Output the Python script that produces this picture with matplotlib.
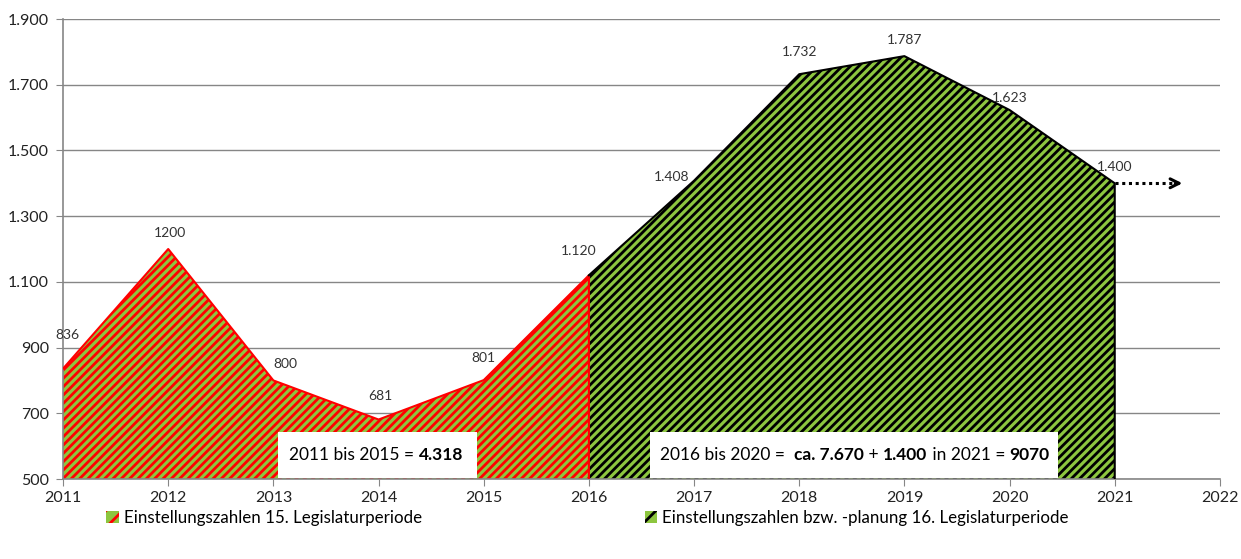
import matplotlib
matplotlib.use("Agg")
import matplotlib.pyplot as plt
from matplotlib.patches import Patch, Rectangle

plt.rcParams['font.family'] = ['Lato', 'DejaVu Sans']
plt.rcParams['hatch.linewidth'] = 2.0

# Daten
jahre_15 = [2011, 2012, 2013, 2014, 2015, 2016]
werte_15 = [836, 1200, 800, 681, 801, 1120]
jahre_16 = [2016, 2017, 2018, 2019, 2020, 2021]
werte_16 = [1120, 1408, 1732, 1787, 1623, 1400]
legende = ["Einstellungszahlen 15. Legislaturperiode",
           "Einstellungszahlen bzw. -planung 16. Legislaturperiode"]

gruen = '#8DC63F'


def de(v):
    return f"{v:,.0f}".replace(',', '.')


fig = plt.figure(figsize=(12.41, 5.59), dpi=100)
ax = fig.add_axes([0.0508, 0.1431, 0.9322, 0.8229])

# Flaechen mit Schraffur
ax.fill_between(jahre_15, werte_15, 500, facecolor=gruen, edgecolor='#FF0000',
                hatch='////', linewidth=0, zorder=2)
ax.fill_between(jahre_16, werte_16, 500, facecolor=gruen, edgecolor='black',
                hatch='////', linewidth=0, zorder=2)
ax.plot(jahre_15 + [jahre_15[-1]], werte_15 + [500], color='#FF0000', lw=1.5, zorder=3)
ax.plot(jahre_16 + [jahre_16[-1]], werte_16 + [500], color='black', lw=1.5, zorder=3)

# Pfeil nach 2021
ax.plot([jahre_16[-1], 2021.62], [werte_16[-1]] * 2, color='black', lw=2.2,
        linestyle=(0, (1, 1.2)), zorder=4)
ax.annotate('', xy=(2021.67, werte_16[-1]), xytext=(2021.55, werte_16[-1]),
            arrowprops=dict(arrowstyle='->', color='black', lw=2.2,
                            mutation_scale=16), zorder=4)

# Beschriftungen der Werte
off_15 = [(4, 28), (2, 10), (12, 10), (2, 18), (0, 16)]
for j, v, o in zip(jahre_15[:-1], werte_15[:-1], off_15):
    ax.annotate(str(v), (j, v), xytext=o, textcoords='offset pixels',
                ha='center', va='bottom', fontsize=10, color='#333333')
off_16 = [(-10, 18), (-22, -2), (0, 16), (0, 10), (0, 6), (0, 10)]
for j, v, o in zip(jahre_16, werte_16, off_16):
    ax.annotate(de(v), (j, v), xytext=o, textcoords='offset pixels',
                ha='center', va='bottom', fontsize=10, color='#333333')

# Summenkaesten
ax.add_patch(Rectangle((2013.04, 503), 1.9, 140, facecolor='white',
                       edgecolor='none', zorder=5))
ax.add_patch(Rectangle((2016.58, 503), 3.88, 140, facecolor='white',
                       edgecolor='none', zorder=5))


def mehrteilig(x, y, teile):
    t = ax.text(x, y, teile[0][0], fontweight=teile[0][1], fontsize=12.5,
                va='center', ha='left', zorder=6)
    for s, w in teile[1:]:
        t = ax.annotate(s, xy=(1, 0), xycoords=t, va='bottom', ha='left',
                        fontsize=12.5, fontweight=w, zorder=6)


mehrteilig(2013.15, 573, [("2011 bis 2015 = ", 'normal'), ("4.318", 'bold')])
mehrteilig(2016.68, 573, [("2016 bis 2020 =  ", 'normal'), ("ca. 7.670", 'bold'),
                          (" + ", 'normal'), ("1.400", 'bold'),
                          (" in 2021 = ", 'normal'), ("9070", 'bold')])

# Achsen
ax.set_xlim(2011, 2022)
ax.set_ylim(500, 1900)
ax.set_xticks(range(2011, 2023))
ax.set_yticks(range(500, 1901, 200))
ax.set_yticklabels([de(v) for v in range(500, 1901, 200)])
ax.tick_params(labelsize=11.5, colors='#222222', length=5, color='#868686')
ax.tick_params(axis='y', pad=5)
ax.grid(axis='y', color='#868686', lw=1)
ax.set_axisbelow(True)
for s in ['top', 'right']:
    ax.spines[s].set_visible(False)
for s in ['left', 'bottom']:
    ax.spines[s].set_color('#868686')
    ax.spines[s].set_linewidth(1.2)

# Legende
h1 = Patch(facecolor=gruen, edgecolor='#FF0000', hatch='//', lw=0)
h2 = Patch(facecolor=gruen, edgecolor='black', hatch='//', lw=0)
for h, txt, x in [(h1, legende[0], 0.080), (h2, legende[1], 0.514)]:
    fig.legend([h], [txt], loc='center left', bbox_to_anchor=(x, 0.073),
               frameon=False, fontsize=12.2, handlelength=0.75, handleheight=0.75,
               handletextpad=0.3, borderaxespad=0)

fig.savefig('out.png', dpi=100)
